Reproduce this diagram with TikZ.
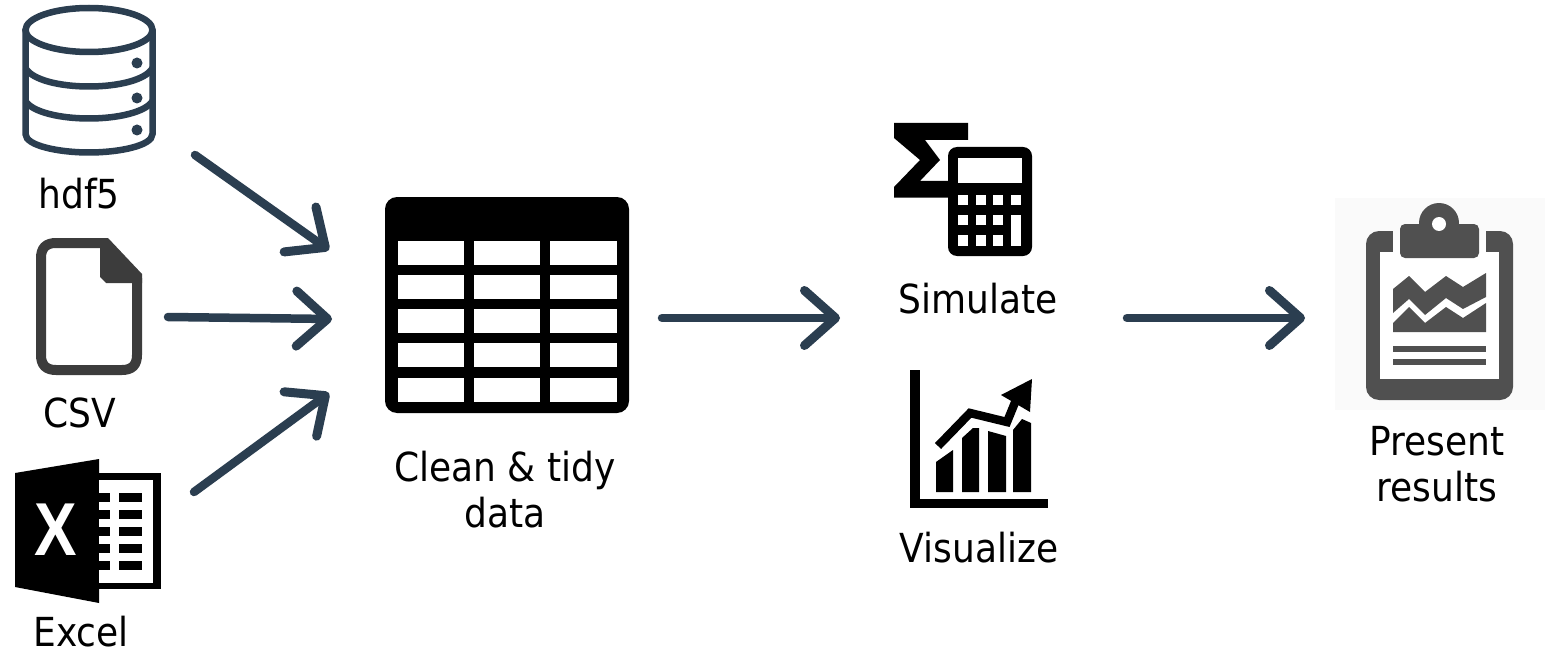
\documentclass[tikz,border=0pt]{standalone}
\usepackage{fontspec}
\setmainfont{DejaVu Sans}[FakeStretch=0.9]
\newfontfamily\iconfont{Liberation Sans}
\usetikzlibrary{arrows.meta}
\pgfdeclarearrow{
  name=Chevron,
  setup code={
    \pgfarrowssettipend{4.5pt}
    \pgfarrowssetlineend{-2pt}
    \pgfarrowssetvisualbackend{-2pt}
    \pgfarrowssetbackend{-31pt}
    \pgfarrowshullpoint{4.5pt}{0pt}
    \pgfarrowshullpoint{-31pt}{27.5pt}
    \pgfarrowshullpoint{-31pt}{-27.5pt}
  },
  drawing code={
    \pgfsetlinewidth{9pt}
    \pgfsetroundcap
    \pgfsetroundjoin
    \pgfpathmoveto{\pgfpoint{-31pt}{27.5pt}}
    \pgfpathlineto{\pgfpoint{0pt}{0pt}}
    \pgfpathlineto{\pgfpoint{-31pt}{-27.5pt}}
    \pgfusepathqstroke
  }
}
\definecolor{navy}{HTML}{2B3E50}
\definecolor{docgray}{HTML}{3C3C3C}
\definecolor{clipgray}{HTML}{505050}
\tikzset{
  flow/.style={draw=navy,line width=8.5pt,line cap=round,-{Chevron}},
  label/.style={font=\fontsize{40}{46}\selectfont,text=black,inner sep=0pt,align=center},
  ink/.style={fill=black,draw=none},
  hole/.style={fill=white,draw=none},
  dbline/.style={draw=navy,line width=6.5pt},
  dbdot/.style={fill=navy,draw=none},
  clip/.style={fill=clipgray,draw=none}
}
\begin{document}
\begin{tikzpicture}[x=1pt,y=-1pt]
\useasboundingbox (0,0) rectangle (1556,658);
\fill[white] (0,0) rectangle (1556,658);

% database icon
\draw[dbline] (89,30) ellipse [x radius=63.5,y radius=22];
\draw[dbline,line cap=round] (25.5,30) -- (25.5,134) .. controls (25.5,146) and (60,152.5) .. (89,152.5) .. controls (118,152.5) and (152.5,146) .. (152.5,134) -- (152.5,30);
\draw[dbline] (25.5,68) .. controls (32,80) and (60,86.5) .. (89,86.5) .. controls (118,86.5) and (146,80) .. (152.5,68);
\draw[dbline] (25.5,101) .. controls (32,112) and (60,118.5) .. (89,118.5) .. controls (118,118.5) and (146,112) .. (152.5,101);
\fill[dbdot] (137,63) circle (5.5);
\fill[dbdot] (137,98) circle (5.5);
\fill[dbdot] (137,130) circle (5.5);

% csv icon
\draw[docgray,line width=10pt,line join=round] (107,243) -- (56,243) .. controls (46,243) and (41,248) .. (41,258) -- (41,355) .. controls (41,365) and (46,370) .. (56,370) -- (122,370) .. controls (132,370) and (137,365) .. (137,355) -- (137,278);
\fill[docgray] (100,238) -- (108,238) -- (142,274) -- (142,283) -- (106,283) -- (100,277) -- cycle;

% excel icon
\fill[ink] (15,473) -- (99,459) -- (99,603) -- (15,587) -- cycle;
\fill[ink] (99,473) rectangle (161,589);
\fill[hole] (99,480) rectangle (153,583);
\foreach \yy in {493,510,527,544,561}{
  \fill[ink] (99,\yy) rectangle (110,\yy+9);
  \fill[ink] (119,\yy) rectangle (142,\yy+9);
}
\node[inner sep=0pt,text=white,xscale=.85,font={\iconfont\bfseries\fontsize{75}{75}\selectfont}] (xmark) at (56,530) {X};

% table icon
\fill[ink,rounded corners=12pt] (385,197) rectangle (629,413);
\foreach \xa/\xb in {398/464,474/540,550/617}{
  \foreach \ya/\yb in {241/265,275/299,309/333,343/367,378/402}{
    \fill[hole] (\xa,\ya) rectangle (\xb,\yb);
  }
}

% calculator icon
\fill[ink] (894,123) -- (968,123) -- (968,140) -- (925,140) -- (940,160) -- (920,181) -- (955,181) -- (955,197.5) -- (894,197.5) -- (894,187) -- (920,160) -- (894,138) -- cycle;
\fill[ink,rounded corners=9pt] (948,147) rectangle (1032,256);
\fill[hole] (958,158) rectangle (1022,183);
\foreach \xa in {958,976,993,1011}{
  \fill[hole] (\xa,195) rectangle (\xa+10,205);
}
\foreach \xa in {958,976,993}{
  \fill[hole] (\xa,215) rectangle (\xa+10,225);
  \fill[hole] (\xa,235) rectangle (\xa+10,246);
}
\fill[hole] (1011,215) rectangle (1021,246);

% chart icon
\fill[ink] (910,370) rectangle (919.5,507.5);
\fill[ink] (910,499) rectangle (1048,507.5);
\fill[ink] (936,462) -- (953,450) -- (953,492) -- (936,492) -- cycle;
\fill[ink] (962,438) -- (973,428) -- (979,428) -- (979,492) -- (962,492) -- cycle;
\fill[ink] (988,431) -- (1006,436) -- (1006,492) -- (988,492) -- cycle;
\fill[ink] (1013,430) -- (1022,419) -- (1031,423) -- (1031,492) -- (1013,492) -- cycle;
\draw[black,line width=8.5pt] (938,446) -- (970,413) -- (1007,422) -- (1016,400);
\fill[ink] (1001,395) -- (1032,379) -- (1030,412) -- cycle;

% clipboard icon
\fill[black!2] (1335,198) rectangle (1545,410);
\fill[clip,rounded corners=13pt] (1366,231) rectangle (1513,400);
\fill[hole] (1380,252) rectangle (1499,379);
\fill[black!2] (1393,228) rectangle (1486,253);
\fill[hole] (1393,240) rectangle (1486,253);
\fill[clip,rounded corners=5pt] (1400,224) rectangle (1479,258);
\fill[clip] (1439,223) circle (20);
\fill[hole] (1439,224) circle (7);
\fill[clip] (1393,289) -- (1409,276) -- (1425,292) -- (1446,276) -- (1463,287) -- (1486,273) -- (1486,297) -- (1463,309) -- (1446,298) -- (1425,315) -- (1409,299) -- (1393,313) -- cycle;
\fill[clip] (1393,323) -- (1409,307) -- (1425,323) -- (1446,307) -- (1463,318) -- (1486,303) -- (1486,332) -- (1393,332) -- cycle;
\fill[clip] (1393,346) rectangle (1486,352);
\fill[clip] (1393,359) rectangle (1486,365);

% labels
\node[label,anchor=base] (hdf) at (79,208) {hdf5};
\node[label,anchor=base] (csv) at (80,427) {CSV};
\node[label,anchor=base] (xls) at (81,646) {Excel};
\node[label] (clean) at (505,490) {Clean \& tidy\\data};
\node[label,anchor=base] (sim) at (978,313) {Simulate};
\node[label,anchor=base] (vis) at (979,562) {Visualize};
\node[label] (pres) at (1437,464) {Present\\results};

% connector ends
\coordinate (h0) at (195,155);
\coordinate (h1) at (329,250);
\coordinate (c0) at (168,317);
\coordinate (c1) at (332,319);
\coordinate (e0) at (194,492);
\coordinate (e1) at (329,393);
\coordinate (t0) at (662,318);
\coordinate (t1) at (840,318);
\coordinate (s0) at (1127,318);
\coordinate (s1) at (1305,318);
\draw[flow] (h0) -- (h1);
\draw[flow] (c0) -- (c1);
\draw[flow] (e0) -- (e1);
\draw[flow] (t0) -- (t1);
\draw[flow] (s0) -- (s1);
\end{tikzpicture}
\end{document}
